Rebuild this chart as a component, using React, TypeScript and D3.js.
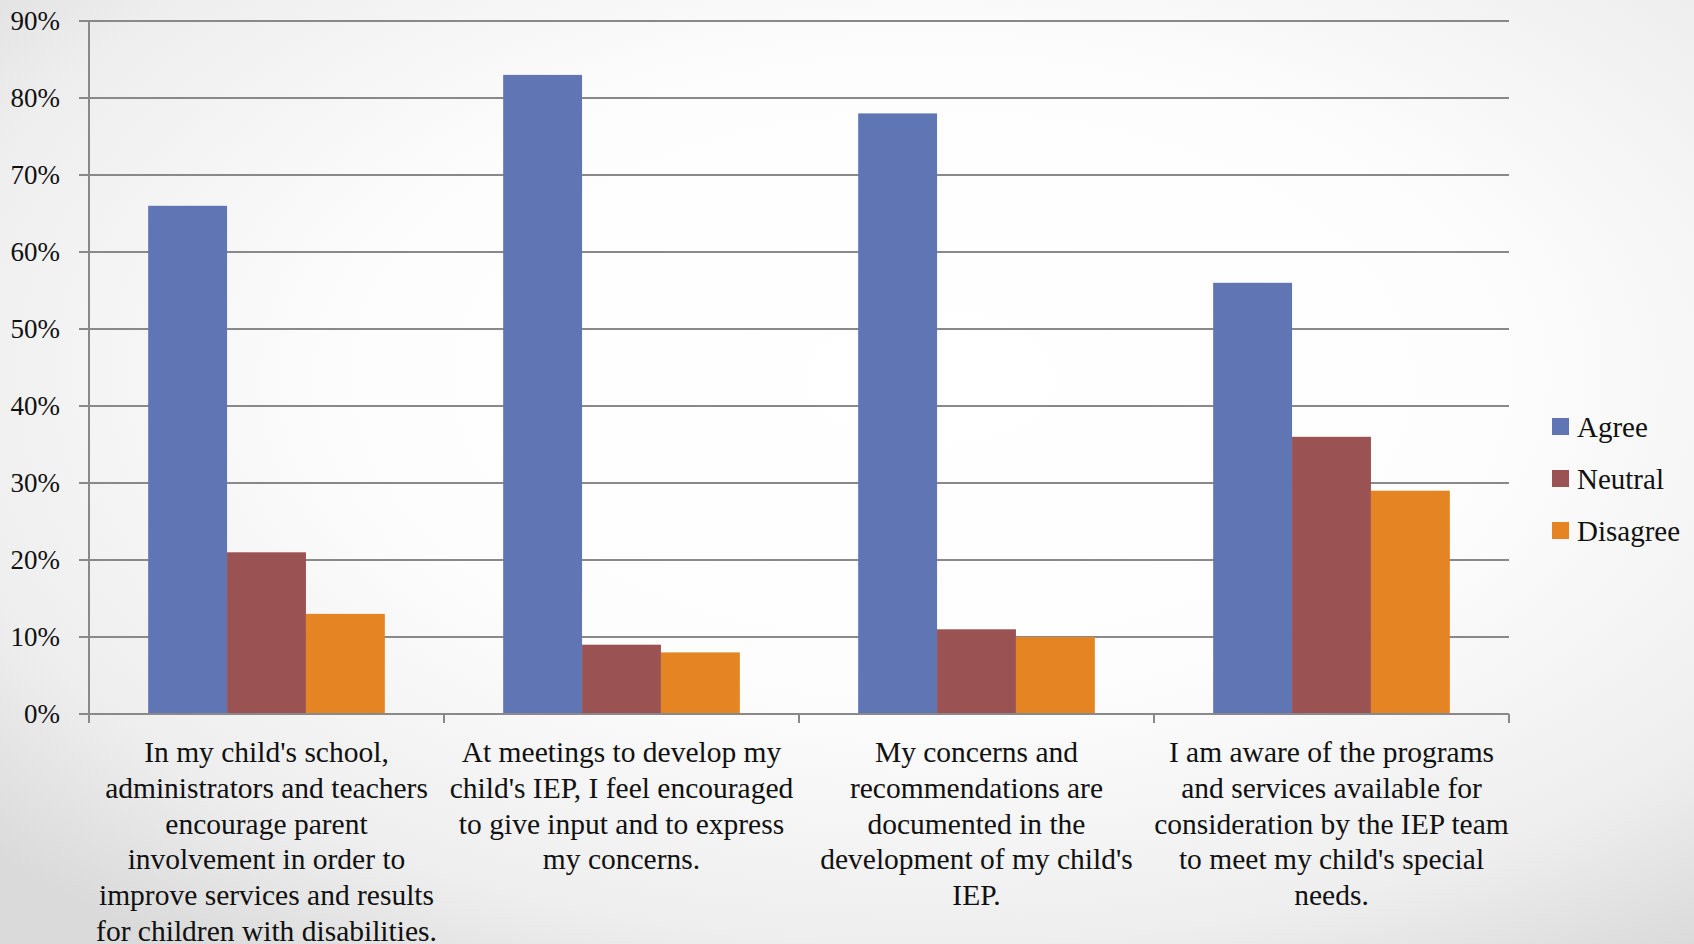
import React from "react";
import * as d3 from "d3";

const categories = [
  ["In my child's school,", "administrators and teachers", "encourage parent", "involvement in order to", "improve services and results", "for children with disabilities."],
  ["At meetings to develop my", "child's IEP, I feel encouraged", "to give input and to express", "my concerns."],
  ["My concerns and", "recommendations are", "documented in the", "development of my child's", "IEP."],
  ["I am aware of the programs", "and services available for", "consideration by the IEP team", "to meet my child's special", "needs."],
];

const seriesNames = ["Agree", "Neutral", "Disagree"];
const agree = [66, 83, 78, 56];
const neutral = [21, 9, 11, 36];
const disagree = [13, 8, 10, 29];
const seriesValues = [agree, neutral, disagree];
const seriesColors = ["#6076B4", "#9B5252", "#E48423"];
const yTicks = [0, 10, 20, 30, 40, 50, 60, 70, 80, 90];

const W = 1694;
const H = 944;
const FONT = "'Liberation Serif', 'DejaVu Serif', serif";

export default function App() {
  const left = 89;
  const right = 1509;
  const top = 21;
  const bottom = 714;

  const y = d3.scaleLinear().domain([0, 90]).range([bottom, top]);
  const x0 = d3
    .scaleBand<number>()
    .domain(d3.range(categories.length))
    .range([left, right])
    .padding(0);
  const x1 = d3
    .scaleBand<string>()
    .domain(seriesNames)
    .range([0, x0.bandwidth()])
    .paddingInner(0)
    .paddingOuter(0.75);

  const catEdges = d3.range(categories.length + 1).map((i) => left + i * x0.step());

  return (
    <svg
      width={W}
      height={H}
      style={{ position: "absolute", left: 0, top: 0, display: "block" }}
      fontFamily={FONT}
    >
      <defs>
        <radialGradient id="bg" cx="0.55" cy="0.4" r="0.75" fx="0.55" fy="0.4">
          <stop offset="0" stopColor="#ffffff" />
          <stop offset="0.45" stopColor="#fdfdfd" />
          <stop offset="0.8" stopColor="#eeeeee" />
          <stop offset="1" stopColor="#dadada" />
        </radialGradient>
      </defs>
      <rect x={0} y={0} width={W} height={H} fill="url(#bg)" />

      {/* gridlines and y ticks */}
      {yTicks.map((t) => (
        <g key={t}>
          <line x1={left - 10} x2={right} y1={y(t)} y2={y(t)} stroke="#898989" strokeWidth={2} />
          <text
            x={60}
            y={y(t)}
            textAnchor="end"
            dominantBaseline="central"
            fontSize={27}
            fill="#111"
          >
            {t}%
          </text>
        </g>
      ))}

      {/* bars */}
      {seriesNames.map((s, si) => (
        <g key={s} fill={seriesColors[si]}>
          {seriesValues[si].map((v, ci) => (
            <rect
              key={ci}
              x={(x0(ci) as number) + (x1(s) as number)}
              y={y(v)}
              width={x1.bandwidth()}
              height={y(0) - y(v)}
            />
          ))}
        </g>
      ))}

      {/* axes */}
      <line x1={left} x2={left} y1={top} y2={bottom} stroke="#898989" strokeWidth={2} />
      <line x1={left - 10} x2={right} y1={bottom} y2={bottom} stroke="#898989" strokeWidth={2} />
      {catEdges.map((e, i) => (
        <line key={i} x1={e} x2={e} y1={bottom} y2={bottom + 9} stroke="#898989" strokeWidth={2} />
      ))}

      {/* category labels */}
      {categories.map((lines, ci) => (
        <text
          key={ci}
          x={(x0(ci) as number) + x0.bandwidth() / 2}
          textAnchor="middle"
          fontSize={29.5}
          fill="#111"
        >
          {lines.map((ln, li) => (
            <tspan key={li} x={(x0(ci) as number) + x0.bandwidth() / 2} y={762 + li * 35.8}>
              {ln}
            </tspan>
          ))}
        </text>
      ))}

      {/* legend */}
      {seriesNames.map((s, si) => (
        <g key={s} transform={`translate(1552, ${418 + si * 52})`}>
          <rect x={0} y={0} width={17} height={17} fill={seriesColors[si]} />
          <text x={25} y={8.5} dominantBaseline="central" fontSize={29} fill="#111">
            {s}
          </text>
        </g>
      ))}
    </svg>
  );
}
